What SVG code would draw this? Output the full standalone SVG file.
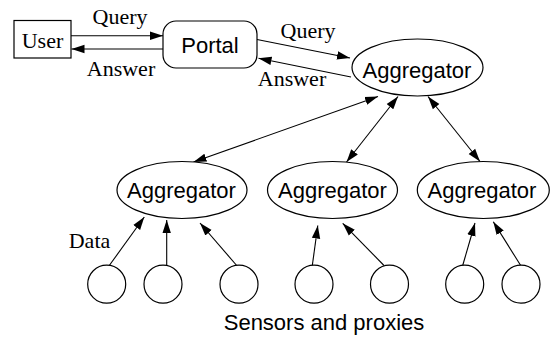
<svg xmlns="http://www.w3.org/2000/svg" width="555" height="338" viewBox="0 0 555 338">
<style>
.box{fill:#fff;stroke:#000;stroke-width:1.2}
.ser{font-family:"Liberation Serif","Times New Roman",serif;font-size:22px;fill:#000;text-anchor:middle}
.san{font-family:"Liberation Sans",Arial,sans-serif;font-size:22px;fill:#000;text-anchor:middle}
.ln{fill:none;stroke:#000;stroke-width:1.1}
</style>
<defs>
<marker id="ah" markerUnits="userSpaceOnUse" markerWidth="14" markerHeight="10" refX="13" refY="5" orient="auto-start-reverse">
<path d="M0,0.8 L13,5 L0,9.2 Z" fill="#000"/>
</marker>
</defs>
<rect width="555" height="338" fill="#fff"/>
<g id="connectors">
<line class="ln" x1="71" y1="35.7" x2="163" y2="35.7" marker-end="url(#ah)"/>
<line class="ln" x1="163" y1="49" x2="71.5" y2="49" marker-end="url(#ah)"/>
<line class="ln" x1="257" y1="39.5" x2="350" y2="58" marker-end="url(#ah)"/>
<line class="ln" x1="351" y1="77" x2="258.5" y2="58.3" marker-end="url(#ah)"/>
<line class="ln" x1="378" y1="96.5" x2="193.5" y2="162" marker-start="url(#ah)" marker-end="url(#ah)"/>
<line class="ln" x1="398" y1="96.5" x2="346.5" y2="162" marker-start="url(#ah)" marker-end="url(#ah)"/>
<line class="ln" x1="428" y1="96.5" x2="480" y2="161.5" marker-start="url(#ah)" marker-end="url(#ah)"/>
<line class="ln" x1="109.3" y1="265.5" x2="144.3" y2="217" marker-end="url(#ah)"/>
<line class="ln" x1="166.7" y1="265.5" x2="166.7" y2="220" marker-end="url(#ah)"/>
<line class="ln" x1="236.7" y1="265.5" x2="200" y2="223" marker-end="url(#ah)"/>
<line class="ln" x1="312.3" y1="265.5" x2="317.8" y2="225.5" marker-end="url(#ah)"/>
<line class="ln" x1="384" y1="265.5" x2="342.7" y2="223.3" marker-end="url(#ah)"/>
<line class="ln" x1="462.7" y1="265.5" x2="475" y2="223" marker-end="url(#ah)"/>
<line class="ln" x1="520.7" y1="265.5" x2="493.3" y2="221.7" marker-end="url(#ah)"/>
</g>
<g id="labels">
<text class="ser" x="120" y="24">Query</text>
<text class="ser" x="121" y="76">Answer</text>
<text class="ser" x="308" y="38">Query</text>
<text class="ser" x="292" y="86">Answer</text>
<text class="ser" x="89.5" y="248">Data</text>
<text class="san" x="324" y="330">Sensors and proxies</text>
</g>
<g id="user">
<rect class="box" x="14" y="20.5" width="57" height="37.5"/>
<text class="ser" x="42.5" y="48">User</text>
</g>
<g id="portal">
<rect class="box" x="163" y="21" width="94" height="47" rx="13" ry="13"/>
<text class="san" x="210" y="53">Portal</text>
</g>
<g id="agg-top">
<ellipse class="box" cx="417.5" cy="67.5" rx="65.5" ry="28.5"/>
<text class="san" x="417" y="77.5">Aggregator</text>
</g>
<g id="agg-1">
<ellipse class="box" cx="182" cy="190" rx="65" ry="28.5"/>
<text class="san" x="181.5" y="198.3">Aggregator</text>
</g>
<g id="agg-2">
<ellipse class="box" cx="332.5" cy="190" rx="65" ry="28.5"/>
<text class="san" x="332.5" y="198.3">Aggregator</text>
</g>
<g id="agg-3">
<ellipse class="box" cx="483.3" cy="190" rx="66" ry="28.5"/>
<text class="san" x="482" y="198.3">Aggregator</text>
</g>
<g id="sensor-1"><circle class="box" cx="106.7" cy="284.2" r="19"/></g>
<g id="sensor-2"><circle class="box" cx="163" cy="284.2" r="19"/></g>
<g id="sensor-3"><circle class="box" cx="239" cy="284.2" r="19"/></g>
<g id="sensor-4"><circle class="box" cx="314" cy="284.2" r="19"/></g>
<g id="sensor-5"><circle class="box" cx="389.5" cy="284.2" r="19"/></g>
<g id="sensor-6"><circle class="box" cx="464.7" cy="284.2" r="19"/></g>
<g id="sensor-7"><circle class="box" cx="521" cy="284.2" r="19"/></g>
</svg>
